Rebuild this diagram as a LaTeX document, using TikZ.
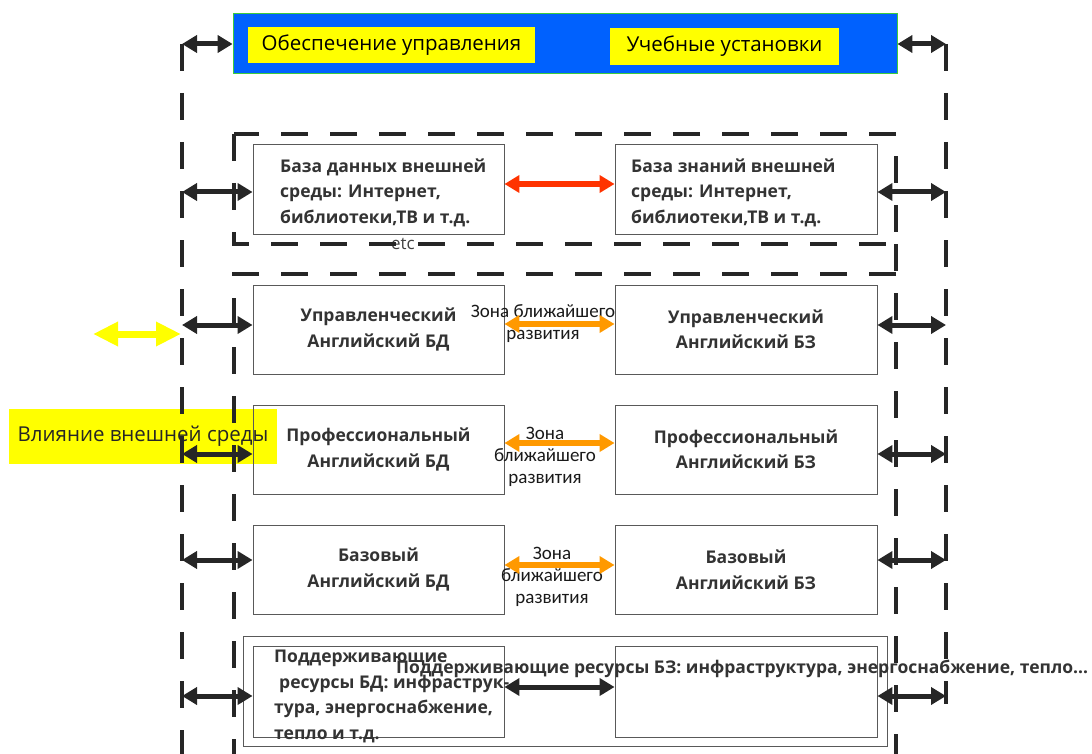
\documentclass[tikz,border=0pt]{standalone}
\usepackage{fontspec}
\setmainfont{Open Sans}
\newfontfamily\zonefont{Carlito}
\usetikzlibrary{arrows.meta}
\definecolor{cBlue}{HTML}{0061FE}
\definecolor{cGreen}{HTML}{3DCC3D}
\definecolor{cYellow}{HTML}{FFFF00}
\definecolor{cOrange}{HTML}{FF9900}
\definecolor{cRed}{HTML}{FF3300}
\definecolor{cDark}{HTML}{262626}
\definecolor{cText}{HTML}{333333}
\definecolor{cFrame}{HTML}{595959}

\begin{document}
\begin{tikzpicture}[
 x=1pt,y=-1pt,
 bx/.style={draw=cFrame,line width=.9pt,inner sep=0pt,minimum height=89pt,
   text=cText,align=center,font=\fontsize{17.5}{25.5}\selectfont\bfseries},
 colL/.style={minimum width=251pt},
 colR/.style={minimum width=262pt},
 ytag/.style={fill=cYellow,inner sep=0pt,font=\fontsize{20.5}{24}\selectfont},
 dline/.style={draw=cDark,line width=3.5pt,dash pattern=on 27pt off 22pt},
 dbl/.style={draw=cDark,line width=5pt,{Triangle[length=15pt,width=17pt]}-{Triangle[length=15pt,width=17pt]}},
 zone/.style={font=\zonefont\fontsize{19}{22}\selectfont,align=center,inner sep=0pt,text=black!90},
 btxt/.style={font=\fontsize{17.5}{25.5}\selectfont\bfseries,text=cText,align=left,inner sep=0pt}]
\path[use as bounding box] (0,0) rectangle (1092,754);

% external influence
\node[ytag,minimum width=268pt,minimum height=55pt,text=cDark,font=\fontsize{20.5}{24}\selectfont]
  (infl) at (143,436.5) {Влияние внешней среды};

% top band
\node[fill=cBlue,draw=cGreen,line width=.8pt,minimum width=664pt,minimum height=60pt,inner sep=0pt]
  (band) at (565,43) {};
\node[ytag,minimum width=287pt,minimum height=36pt] (supp) at (391.5,45) {Обеспечение управления};
\node[ytag,minimum width=229pt,minimum height=37pt] (inst) at (724.5,46.5) {Учебные установки};

\node[font=\fontsize{17}{20}\selectfont,text=black!75,inner sep=0pt] (etc) at (403,244) {etc};

% dashed frames
\draw[dline] (182,44) -- (182,754);
\draw[dline] (946,44) -- (946,704);
\draw[dline] (234,134) rectangle (896,244);
\draw[dline] (896,244) -- (896,754);
\draw[dline] (896,274) -- (234,274) -- (234,754);
\draw[draw=cFrame,line width=.9pt] (243,636) rectangle (887,746);

% boxes
\node[bx,colL,minimum height=90pt] (L1) at (378.5,189) {};
\node[bx,colR,minimum height=90pt] (R1) at (746,189) {};
\node[btxt,anchor=base west] (L1t) at (280,223) {База данных внешней\\среды: Интернет,\\библиотеки,ТВ и т.д.};
\node[btxt,anchor=base west] (R1t) at (631,223) {База знаний внешней\\среды: Интернет,\\библиотеки,ТВ и т.д.};
\foreach \yy/\nm/\lab in {329.5/2/Управленческий,449.5/3/Профессиональный,569.5/4/Базовый} {
  \node[bx,colL] (L\nm) at (378.5,\yy) {\lab\\Английский БД};
  \node[bx,colR] (R\nm) at (746,\yy) {\lab\\Английский БЗ};
}
\node[bx,colL,minimum height=91pt] (L5) at (378.5,691.5) {};
\node[bx,colR,minimum height=91pt] (R5) at (746,691.5) {};
\node[btxt,anchor=base west] (L5t) at (274,739)
  {Поддерживающие\\\hspace*{5pt}ресурсы БД: инфраструк-\\тура, энергоснабжение,\\тепло и т.д.};
\node[btxt,anchor=base west] (R5t) at (396,673)
  {Поддерживающие ресурсы БЗ: инфраструктура, энергоснабжение, тепло…};

% zone labels
\node[zone,anchor=base] (z2) at (543,339) {Зона ближайшего\\развития};
\node[zone,anchor=base] (z3) at (545,483) {Зона\\ближайшего\\развития};
\node[zone,anchor=base] (z4) at (552,603) {Зона\\ближайшего\\развития};

% arrows to the outer frame
\coordinate (oLT) at (182,44);
\coordinate (oRT) at (946,44);
\draw[dbl] (oLT) -- (oLT -| band.west);
\draw[dbl] (oRT -| band.east) -- (oRT);
\foreach \nm/\ya in {1/192,2/325,3/454,4/560,5/696} {
  \coordinate (oL\nm) at (182,\ya);
  \coordinate (oR\nm) at (946,\ya);
  \draw[dbl] (oL\nm) -- (oL\nm -| L\nm.west);
  \draw[dbl] (oR\nm -| R\nm.east) -- (oR\nm);
}

% arrows between the columns
\draw[dbl,draw=cRed,line width=6pt] ([yshift=5pt]L1.east) -- ([yshift=5pt]R1.west);
\foreach \nm/\sh in {2/5.5,3/6.5,4/4.5}
  \draw[dbl,draw=cOrange,line width=6pt] ([yshift=\sh pt]L\nm.east) -- ([yshift=\sh pt]R\nm.west);
\draw[dbl] ([yshift=4.5pt]L5.east) -- ([yshift=4.5pt]R5.west);

% influence arrow
\coordinate (yA) at (93,334);
\coordinate (yB) at (181,334);
\draw[dbl,draw=cYellow,line width=7pt,{Triangle[length=25pt,width=23pt]}-{Triangle[length=25pt,width=23pt]}]
  (yA) -- (yB);
\end{tikzpicture}
\end{document}
